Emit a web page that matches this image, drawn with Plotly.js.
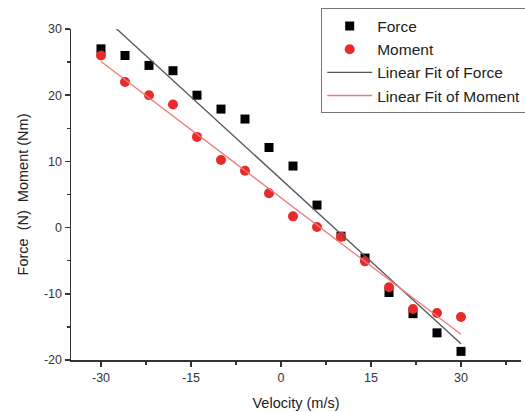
<!DOCTYPE html>
<html><head><meta charset="utf-8">
<script src="https://cdn.plot.ly/plotly-3.0.1.min.js"></script>
<style>html,body{margin:0;padding:0;background:#fff}#chart{width:525px;height:412px}</style>
</head><body><div id="chart"></div>
<script>
const velocity = [-30,-26,-22,-18,-14,-10,-6,-2,2,6,10,14,18,22,26,30];
const force    = [27.0,26.0,24.5,23.7,20.0,17.9,16.4,12.1,9.3,3.4,-1.3,-4.6,-9.8,-13.0,-15.9,-18.7];
const moment   = [26.0,22.0,20.0,18.6,13.7,10.2,8.6,5.2,1.7,0.1,-1.4,-5.1,-9.0,-12.3,-12.9,-13.5];
const xTicks = [-30,-15,0,15,30];
const yTicks = [-20,-10,0,10,20,30];

function linfit(x, y){
  const n = x.length;
  const mx = x.reduce((a,b)=>a+b,0)/n, my = y.reduce((a,b)=>a+b,0)/n;
  let sxy=0, sxx=0;
  for(let i=0;i<n;i++){ sxy += (x[i]-mx)*(y[i]-my); sxx += (x[i]-mx)*(x[i]-mx); }
  const b = sxy/sxx, a = my - b*mx;
  const xs = [Math.min(...x), Math.max(...x)];
  return {x: xs, y: xs.map(v=>a+b*v)};
}
const fF = linfit(velocity, force);
const fM = linfit(velocity, moment);

const font = "Liberation Sans, Arial, sans-serif";
const traces = [
  {x: velocity, y: force, mode:'markers', name:'Force', type:'scatter',
   marker:{symbol:'square', size:9, color:'#000'}},
  {x: velocity, y: moment, mode:'markers', name:'Moment', type:'scatter',
   marker:{symbol:'circle', size:10, color:'#e82a2a'}},
  {x: fF.x, y: fF.y, mode:'lines', name:'Linear Fit of Force', type:'scatter',
   line:{color:'#555', width:1.3}},
  {x: fM.x, y: fM.y, mode:'lines', name:'Linear Fit of Moment', type:'scatter',
   line:{color:'#f07a7a', width:1.3}}
];
const axisCommon = {
  showgrid:false, zeroline:false, showline:true, linecolor:'#333', linewidth:1.5,
  ticks:'outside', ticklen:5, tickwidth:1.5, tickcolor:'#333',
  tickfont:{family:font, size:12.5, color:'#333'}
};
const layout = {
  width:525, height:412,
  margin:{l:71, r:4, t:29, b:52, autoexpand:false},
  paper_bgcolor:'#fff', plot_bgcolor:'#fff',
  showlegend:true,
  legend:{x:0.556, xanchor:'left', y:1.062, yanchor:'top', bgcolor:'#fff',
    bordercolor:'#777', borderwidth:1, font:{family:font, size:15.5, color:'#222'},
    itemwidth:45, tracegroupgap:0},
  xaxis: Object.assign({}, axisCommon, {range:[-35,40], tickvals:xTicks, ticktext:xTicks.map(String),
    minor:{dtick:7.5, tick0:-22.5, ticks:'outside', ticklen:3, tickwidth:1.5, tickcolor:'#333'},
    title:{text:'Velocity (m/s)', font:{family:font, size:14.5, color:'#222'}, standoff:14}}),
  yaxis: Object.assign({}, axisCommon, {range:[-20,30], tickvals:yTicks, ticktext:yTicks.map(String),
    minor:{dtick:5, tick0:-15, ticks:'outside', ticklen:3, tickwidth:1.5, tickcolor:'#333'},
    title:{text:'Force\u00a0\u00a0(N)\u00a0\u00a0Moment (Nm)', font:{family:font, size:14.5, color:'#222'}, standoff:12}})
};
Plotly.newPlot('chart', traces, layout, {displayModeBar:false, staticPlot:true});
</script></body></html>
